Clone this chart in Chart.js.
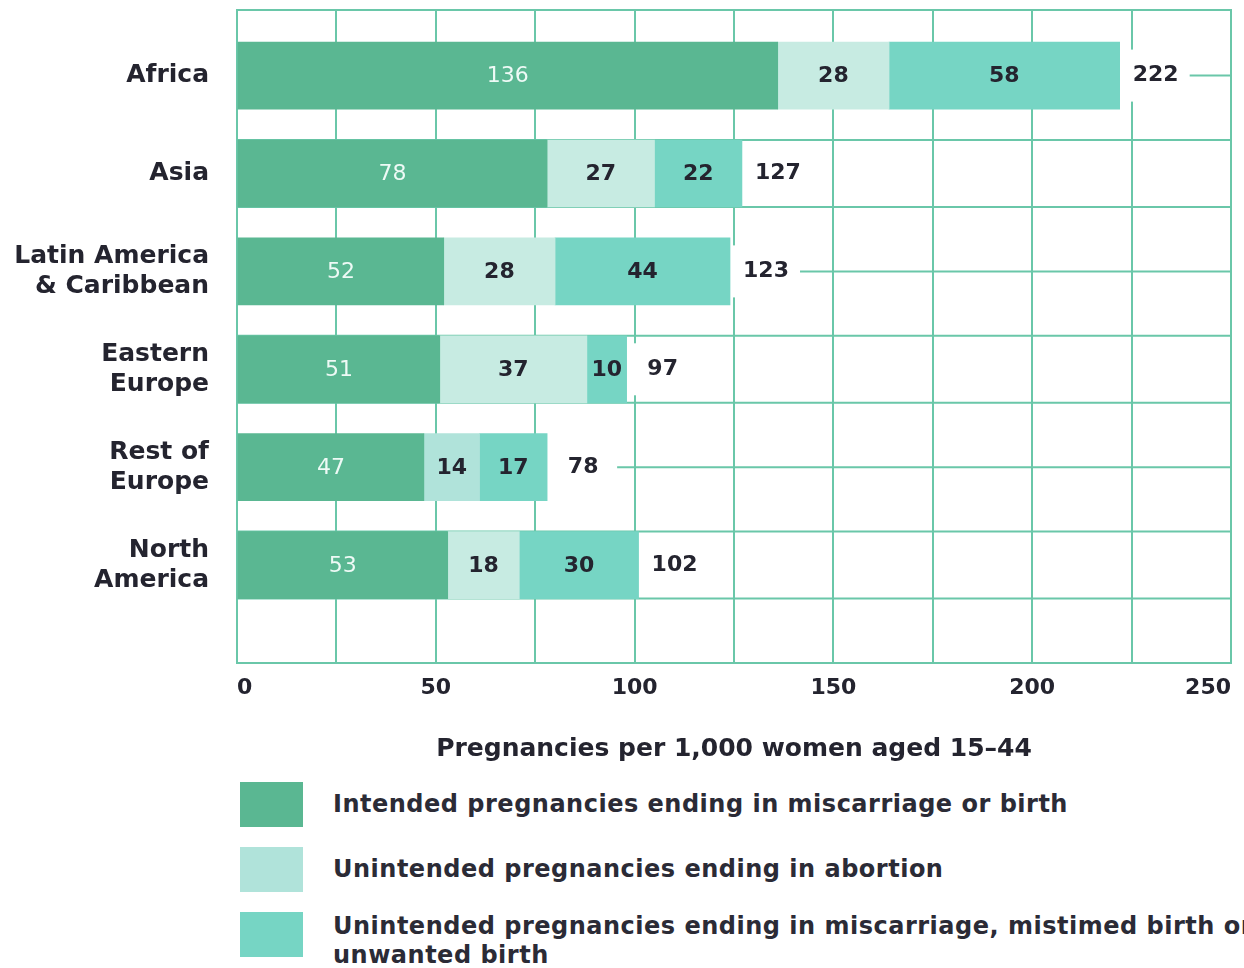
<!DOCTYPE html>
<html>
<head>
<meta charset="utf-8">
<script src="https://cdn.jsdelivr.net/npm/chart.js@4.4.0/dist/chart.umd.min.js"></script>
<style>
  html, body { margin: 0; padding: 0; background: #fff; overflow: hidden; }
  body { width: 1244px; height: 968px; position: relative; font-family: "DejaVu Sans", sans-serif; }
  #chart-wrap { position: absolute; left: 0; top: 0; width: 1244px; height: 775px; }
  #legend { position: absolute; left: 240px; top: 782px; right: 0; overflow: hidden; }
  .legend-item { display: flex; align-items: center; height: 45px; margin-bottom: 20px; }
  .legend-swatch { width: 63px; height: 45px; flex: none; }
  .legend-text { margin-left: 30px; font-weight: bold; font-size: 24px; letter-spacing: 0.5px; color: #2b2b36; white-space: nowrap; line-height: 29px; }
  .legend-text.multi { margin-top: 12px; }
</style>
</head>
<body>
<div id="chart-wrap"><canvas id="pregnancy-chart"></canvas></div>
<div id="legend"></div>
<script>
"use strict";

const regions = [['Africa'], ['Asia'], ['Latin America', '& Caribbean'], ['Eastern', 'Europe'], ['Rest of', 'Europe'], ['North', 'America']];
const intended = [136, 78, 52, 51, 47, 53];
const unintendedAbortion = [28, 27, 28, 37, 14, 18];
const unintendedOther = [58, 22, 44, 10, 17, 30];
const totals = [222, 127, 123, 97, 78, 102];
const seriesNames = [
  ['Intended pregnancies ending in miscarriage or birth'],
  ['Unintended pregnancies ending in abortion'],
  ['Unintended pregnancies ending in miscarriage, mistimed birth or', 'unwanted birth'],
];
const xMax = 250;
const xStep = 25;
const xLabelStep = 50;
const axisTitle = 'Pregnancies per 1,000 women aged 15–44';

const seriesColors = [
  '#5ab792',
  ['#c7ebe2', '#c7ebe2', '#c7ebe2', '#c7ebe2', '#b0e3da', '#c7ebe2'],
  '#76d5c4',
];
const legendColors = ['#5ab792', '#b0e3da', '#76d5c4'];
const gridColor = '#6ac7a9';
const darkText = '#24242f';
const lightText = '#eefaf6';
const fontFamily = '"DejaVu Sans", sans-serif';
const totalBoxWidth = 70;

const toPoints = (values) => values.map((value, index) => ({ x: value, y: index }));

const barProps = (bar) => bar.getProps(['x', 'y', 'base', 'height'], true);

const lastMeta = (chart) => chart.getDatasetMeta(chart.data.datasets.length - 1).data;

// horizontal rules: centre line for even rows, bar edges for odd rows, plus the outer box
const rowRules = {
  id: 'rowRules',
  beforeDatasetsDraw(chart) {
    const { ctx, chartArea } = chart;
    ctx.save();
    ctx.strokeStyle = gridColor;
    ctx.lineWidth = 2;
    lastMeta(chart).forEach((bar, i) => {
      const { x, y, height } = barProps(bar);
      ctx.beginPath();
      if (i % 2 === 0) {
        ctx.moveTo(x + totalBoxWidth, y);
        ctx.lineTo(chartArea.right, y);
      } else {
        ctx.moveTo(chartArea.left, y - height / 2);
        ctx.lineTo(chartArea.right, y - height / 2);
        ctx.moveTo(chartArea.left, y + height / 2);
        ctx.lineTo(chartArea.right, y + height / 2);
      }
      ctx.stroke();
    });
    ctx.strokeRect(chartArea.left, chartArea.top, chartArea.width, chartArea.height);
    ctx.restore();
  },
};

const valueLabels = {
  id: 'valueLabels',
  afterDatasetsDraw(chart) {
    const { ctx } = chart;
    ctx.save();
    ctx.textAlign = 'center';
    ctx.textBaseline = 'middle';

    chart.data.datasets.forEach((dataset, d) => {
      ctx.font = `${d === 0 ? 'normal' : 'bold'} 22px ${fontFamily}`;
      ctx.fillStyle = d === 0 ? lightText : darkText;
      chart.getDatasetMeta(d).data.forEach((bar, i) => {
        const { x, y, base } = barProps(bar);
        ctx.fillText(String(dataset.data[i].x), (x + base) / 2, y + 1);
      });
    });

    ctx.font = `bold 22px ${fontFamily}`;
    lastMeta(chart).forEach((bar, i) => {
      const { x, y } = barProps(bar);
      ctx.fillStyle = '#ffffff';
      ctx.fillRect(x + 1, y - 26, totalBoxWidth - 2, 52);
      ctx.fillStyle = darkText;
      ctx.fillText(String(totals[i]), x + 36, y);
    });
    ctx.restore();
  },
};

const chart = new Chart(document.getElementById('pregnancy-chart'), {
  type: 'bar',
  data: {
    datasets: [intended, unintendedAbortion, unintendedOther].map((values, i) => ({
      label: seriesNames[i].join(' '),
      data: toPoints(values),
      backgroundColor: seriesColors[i],
      borderWidth: 0,
      barThickness: 67,
    })),
  },
  options: {
    indexAxis: 'y',
    responsive: true,
    maintainAspectRatio: false,
    animation: false,
    layout: {
      padding: { top: 10, right: 13, bottom: 0, left: 0 },
    },
    scales: {
      x: {
        type: 'linear',
        stacked: true,
        min: 0,
        max: xMax,
        afterFit: (scale) => { scale.height = 112; },
        grid: {
          color: gridColor,
          lineWidth: 2,
          drawTicks: false,
        },
        border: { display: false },
        ticks: {
          stepSize: xStep,
          autoSkip: false,
          maxRotation: 0,
          align: 'inner',
          padding: 12,
          color: darkText,
          font: { family: fontFamily, size: 22, weight: 'bold' },
          callback: (value) => (value % xLabelStep === 0 ? value : ''),
        },
        title: {
          display: true,
          text: axisTitle,
          color: darkText,
          font: { family: fontFamily, size: 25, weight: 'bold' },
          padding: { top: 0, bottom: 11 },
        },
      },
      y: {
        type: 'linear',
        stacked: true,
        reverse: true,
        offset: false,
        min: -0.67,
        max: regions.length,
        afterFit: (scale) => {
          scale.width = 237;
          scale.paddingTop = 0;
          scale.paddingBottom = 0;
        },
        afterBuildTicks: (scale) => {
          scale.ticks = regions.map((_, i) => ({ value: i }));
        },
        grid: { display: false },
        border: { display: false },
        ticks: {
          padding: 20,
          color: darkText,
          font: { family: fontFamily, size: 25, weight: 'bold', lineHeight: 1.2 },
          callback: (value) => regions[value],
        },
      },
    },
    plugins: {
      legend: { display: false },
      tooltip: { enabled: false },
    },
  },
  plugins: [rowRules, valueLabels],
});

const legend = document.getElementById('legend');
seriesNames.forEach((lines, i) => {
  const item = document.createElement('div');
  item.className = 'legend-item';
  const swatch = document.createElement('div');
  swatch.className = 'legend-swatch';
  swatch.style.background = legendColors[i];
  const text = document.createElement('div');
  text.className = lines.length > 1 ? 'legend-text multi' : 'legend-text';
  text.innerHTML = lines.join('<br>');
  item.appendChild(swatch);
  item.appendChild(text);
  legend.appendChild(item);
});
</script>
</body>
</html>
